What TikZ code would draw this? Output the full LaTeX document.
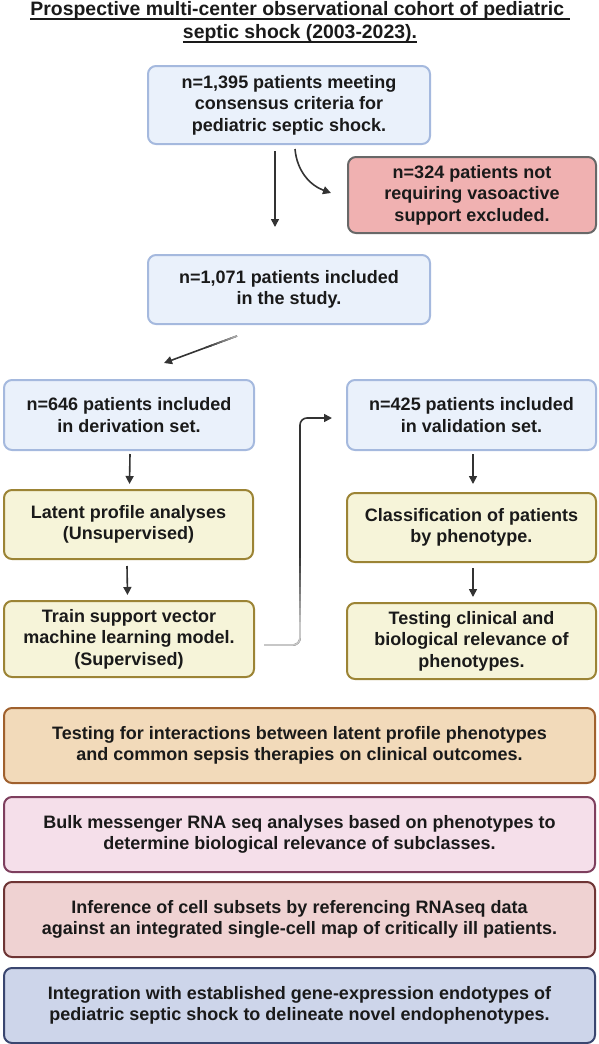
\documentclass[tikz,border=0pt]{standalone}
\usepackage{fontspec}
\setmainfont{Liberation Sans}
\usetikzlibrary{arrows.meta,calc}
\definecolor{txt}{HTML}{1A1A1A}
\definecolor{arrc}{HTML}{333333}
\definecolor{bfill}{HTML}{EAF1FB}
\definecolor{bdraw}{HTML}{A5B9DE}
\definecolor{rfill}{HTML}{F0B1B1}
\definecolor{rdraw}{HTML}{686868}
\definecolor{yfill}{HTML}{F6F4D9}
\definecolor{ydraw}{HTML}{9C8435}
\definecolor{ofill}{HTML}{F2DABA}
\definecolor{odraw}{HTML}{A0612E}
\definecolor{pfill}{HTML}{F5DFEA}
\definecolor{pdraw}{HTML}{7E3F5E}
\definecolor{sfill}{HTML}{EFD2D2}
\definecolor{sdraw}{HTML}{6E3535}
\definecolor{ifill}{HTML}{CDD5EA}
\definecolor{idraw}{HTML}{3A4670}
\newcommand\myul[1]{\setbox0\hbox{#1}\rlap{\rule[-4.5pt]{\wd0}{1.5pt}}\box0}
\tikzset{
  basebox/.style={rounded corners=8pt, line width=2pt, align=center, inner sep=0pt, text=txt},
  bluebox/.style={basebox, fill=bfill, draw=bdraw},
  redbox/.style={basebox, fill=rfill, draw=rdraw},
  yelbox/.style={basebox, fill=yfill, draw=ydraw},
  orbox/.style={basebox, fill=ofill, draw=odraw},
  pkbox/.style={basebox, fill=pfill, draw=pdraw},
  sabox/.style={basebox, fill=sfill, draw=sdraw},
  ibox/.style={basebox, fill=ifill, draw=idraw},
  arr/.style={draw=arrc, line width=1.6pt, -{Triangle[length=8pt,width=8pt]}},
}
\begin{document}
\begin{tikzpicture}[x=1pt,y=-1pt, font=\bfseries\fontsize{18}{21.5}\selectfont]
\useasboundingbox (0,0) rectangle (599,1044);
\node[align=center, inner sep=0pt, text=txt, font=\bfseries\fontsize{19.4}{23}\selectfont] (title) at (300,22)
  {\myul{Prospective multi-center observational cohort of pediatric }\\\myul{septic shock (2003-2023).}};
\node[bluebox, minimum width=282pt, minimum height=78pt] (b1) at (289,105)
  {n=1,395 patients meeting\\consensus criteria for\\pediatric septic shock.};
\node[redbox, minimum width=248pt, minimum height=76pt] (ex) at (472,195)
  {n=324 patients not\\requiring vasoactive\\support excluded.};
\node[bluebox, minimum width=282pt, minimum height=69pt] (b2) at (289,289.5)
  {n=1,071 patients included\\in the study.};
\node[bluebox, minimum width=250pt, minimum height=70pt] (der) at (129,415)
  {n=646 patients included\\in derivation set.};
\node[bluebox, minimum width=249pt, minimum height=70pt] (val) at (471.5,415)
  {n=425 patients included\\in validation set.};
\node[yelbox, minimum width=249pt, minimum height=69pt] (lpa) at (128.5,524.5)
  {Latent profile analyses\\(Unsupervised)};
\node[yelbox, minimum width=249pt, minimum height=69pt] (cls) at (471.5,527.5)
  {Classification of patients\\by phenotype.};
\node[yelbox, minimum width=250pt, minimum height=76pt] (svm) at (129,639)
  {Train support vector\\machine learning model.\\(Supervised)};
\node[yelbox, minimum width=249pt, minimum height=76pt] (rel) at (471.5,641)
  {Testing clinical and\\biological relevance of\\phenotypes.};
\node[orbox, minimum width=591pt, minimum height=75pt] (o1) at (299.5,745.5)
  {Testing for interactions between latent profile phenotypes\\and common sepsis therapies on clinical outcomes.};
\node[pkbox, minimum width=591pt, minimum height=75pt] (o2) at (299.5,834.5)
  {Bulk messenger RNA seq analyses based on phenotypes to\\determine biological relevance of subclasses.};
\node[sabox, minimum width=591pt, minimum height=75pt] (o3) at (299.5,919.5)
  {Inference of cell subsets by referencing RNAseq data\\against an integrated single-cell map of critically ill patients.};
\node[ibox, minimum width=591pt, minimum height=75pt] (o4) at (299.5,1005.5)
  {Integration with established gene-expression endotypes of\\pediatric septic shock to delineate novel endophenotypes.};
% arrows
\draw[arr] ([xshift=-14pt,yshift=-6pt]b1.south) -- ([xshift=-14pt,yshift=27pt]b2.north);
\draw[arr] ([xshift=6pt,yshift=-4pt]b1.south) to[out=-85,in=160] ([xshift=-16pt,yshift=2pt]ex.west);
\coordinate (ds) at ([xshift=-52pt,yshift=-11pt]b2.south);
\coordinate (de) at ([xshift=35pt,yshift=16pt]der.north);
\draw[arr] (ds) -- (de);
\foreach \i in {0,...,5}{
  \pgfmathsetmacro\c{35+8*\i}
  \draw[draw=black!\c, line width=1.6pt] ($(ds)!{\i*0.07}!(de)$) -- ($(ds)!{(\i+1)*0.07+0.01}!(de)$);
}
\draw[arr] ([xshift=1pt,yshift=-3pt]der.south) -- ([xshift=1pt,yshift=5pt]lpa.north);
\draw[arr] ([xshift=-1.5pt,yshift=-6pt]lpa.south) -- ([xshift=-1.5pt,yshift=5pt]svm.north);
\draw[arr] ([xshift=1.5pt,yshift=-3pt]val.south) -- ([xshift=1.5pt,yshift=8pt]cls.north);
\draw[arr] ([xshift=1.5pt,yshift=-5pt]cls.south) -- ([xshift=1.5pt,yshift=5pt]rel.north);
% train -> validation
\coordinate (ts) at ([xshift=9pt,yshift=-6pt]svm.east);
\coordinate (te) at ([xshift=-14pt,yshift=-3pt]val.west);
\coordinate (c1) at (300,645);
\coordinate (c2) at (300,418);
\draw[arr, rounded corners=7pt] (ts) -- (c1) -- (c2) -- (te);
\draw[draw=black!22, line width=1.6pt, rounded corners=7pt] (ts) -- (c1) -- (300,628);
\foreach \i in {0,...,9}{
  \pgfmathsetmacro\c{22+6*\i}
  \draw[draw=black!\c, line width=1.6pt] (300,{628-7*\i+0.5}) -- (300,{628-7*(\i+1)});
}
\end{tikzpicture}
\end{document}
